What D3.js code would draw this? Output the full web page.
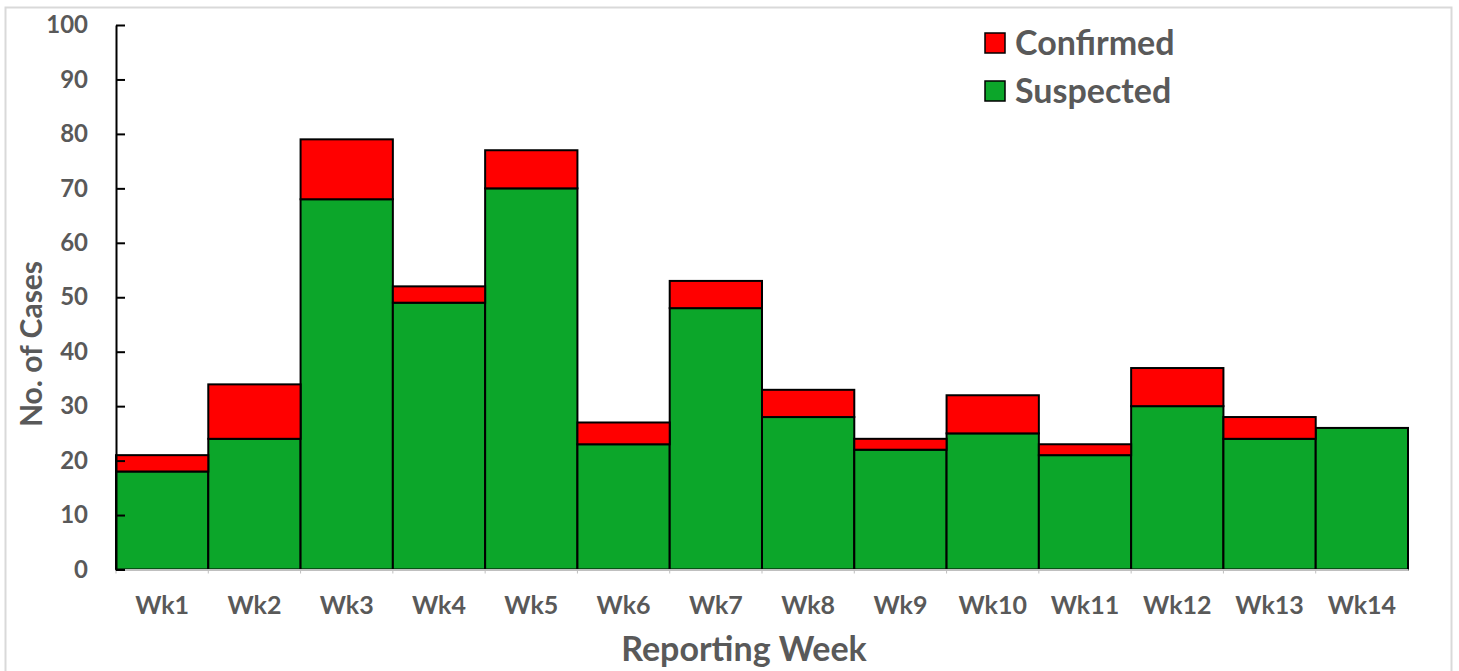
<!DOCTYPE html>
<html>
<head>
<meta charset="utf-8">
<script src="https://cdn.jsdelivr.net/npm/d3@7"></script>
<style>
  body { margin: 0; background: #fff; }
  text { font-family: Lato, "Open Sans", sans-serif; font-weight: bold; fill: #595959; }
</style>
</head>
<body>
<div class="canvas"></div>
<script>
'use strict';

const weeks = ['Wk1', 'Wk2', 'Wk3', 'Wk4', 'Wk5', 'Wk6', 'Wk7', 'Wk8', 'Wk9', 'Wk10', 'Wk11', 'Wk12', 'Wk13', 'Wk14'];
const suspected = [18, 24, 68, 49, 70, 23, 48, 28, 22, 25, 21, 30, 24, 26];
const confirmed = [3, 10, 11, 3, 7, 4, 5, 5, 2, 7, 2, 7, 4, 0];
const yTicks = [0, 10, 20, 30, 40, 50, 60, 70, 80, 90, 100];
const seriesNames = ['Confirmed', 'Suspected'];
const colours = { Confirmed: '#ff0000', Suspected: '#0ca62a' };

const dimensions = { width: 1459, height: 671 };
const margin = { top: 25, right: 51, bottom: 101.5, left: 116 };
const innerW = dimensions.width - margin.left - margin.right;
const innerH = dimensions.height - margin.top - margin.bottom;

const svg = d3.select('.canvas')
    .append('svg')
    .attr('width', dimensions.width)
    .attr('height', dimensions.height);

// chart border
svg.append('rect')
    .attr('x', 5.5).attr('y', 7.5)
    .attr('width', 1446).attr('height', 670)
    .attr('fill', 'none')
    .attr('stroke', '#d9d9d9')
    .attr('stroke-width', 2);

const graph = svg.append('g')
    .attr('transform', `translate(${margin.left},${margin.top})`);

const x = d3.scaleBand().domain(weeks).range([0, innerW]).padding(0);
const y = d3.scaleLinear().domain([0, 100]).range([innerH, 0]);

const data = weeks.map((w, i) => ({ week: w, Suspected: suspected[i], Confirmed: confirmed[i] }));
const stack = d3.stack().keys(['Suspected', 'Confirmed']);
const layers = stack(data);

graph.selectAll('g.layer')
    .data(layers)
    .enter().append('g')
    .attr('class', 'layer')
    .attr('fill', d => colours[d.key])
    .selectAll('rect')
    .data(d => d.filter(p => p[1] > p[0]))
    .enter().append('rect')
    .attr('x', d => x(d.data.week))
    .attr('y', d => y(d[1]))
    .attr('width', x.bandwidth())
    .attr('height', d => y(d[0]) - y(d[1]))
    .attr('stroke', '#000')
    .attr('stroke-width', 2);

// x axis
const xAxis = graph.append('g')
    .attr('transform', `translate(0,${innerH})`)
    .call(d3.axisBottom(x).tickSize(0).tickPadding(27));
xAxis.select('.domain').attr('stroke', '#bfbfbf').attr('stroke-width', 2);
xAxis.selectAll('text').style('font-size', '25px').attr('fill', '#595959');
xAxis.selectAll('.sep')
    .data(weeks)
    .enter().append('line')
    .attr('x1', d => x(d)).attr('x2', d => x(d))
    .attr('y1', 0).attr('y2', 4)
    .attr('stroke', '#bfbfbf');

// y axis
const yAxis = graph.append('g')
    .call(d3.axisLeft(y).tickValues(yTicks).tickSizeInner(-9).tickSizeOuter(0).tickPadding(28));
yAxis.select('.domain').attr('stroke', '#000').attr('stroke-width', 2);
yAxis.selectAll('line').attr('stroke', '#000').attr('stroke-width', 2);
yAxis.selectAll('text').style('font-size', '24px').attr('fill', '#595959');

// axis titles
svg.append('text')
    .attr('x', 744)
    .attr('y', 661)
    .attr('text-anchor', 'middle')
    .style('font-size', '34px')
    .text('Reporting Week');

svg.append('text')
    .attr('transform', 'translate(42,344) rotate(-90)')
    .attr('text-anchor', 'middle')
    .style('font-size', '30px')
    .text('No. of Cases');

// legend
const legend = svg.append('g').attr('transform', 'translate(985,33)');
const items = legend.selectAll('g')
    .data(seriesNames)
    .enter().append('g')
    .attr('transform', (d, i) => `translate(0,${i * 48})`);
items.append('rect')
    .attr('width', 20).attr('height', 20)
    .attr('fill', d => colours[d])
    .attr('stroke', '#000')
    .attr('stroke-width', 1.5);
items.append('text')
    .attr('x', 30).attr('y', 22)
    .style('font-size', '34px')
    .text(d => d);
</script>
</body>
</html>
